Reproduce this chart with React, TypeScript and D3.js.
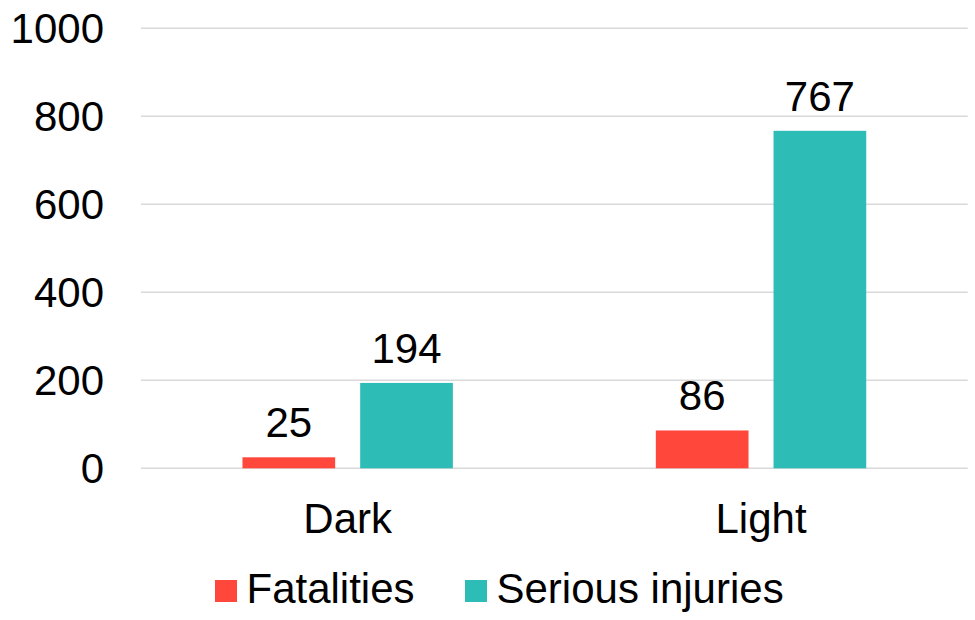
import React from "react";
import * as d3 from "d3";

const categories = ["Dark", "Light"];
const seriesNames = ["Fatalities", "Serious injuries"];
const fatalities = [25, 86];
const seriousInjuries = [194, 767];
const yTicks = [0, 200, 400, 600, 800, 1000];
const colors = ["#ff473b", "#2ebdb6"];

const W = 975;
const H = 620;
const FONT = "Liberation Sans, Arial, sans-serif";
const FS = 42;

export default function App() {
  const x0 = d3.scaleBand<string>().domain(categories).range([141, 967.7]).paddingInner(0).paddingOuter(0);
  const groupWidth = 210.4;
  const x1 = d3
    .scaleBand<string>()
    .domain(seriesNames)
    .range([(x0.bandwidth() - groupWidth) / 2, (x0.bandwidth() + groupWidth) / 2])
    .paddingInner(0.2124);
  const y = d3.scaleLinear().domain([0, 1000]).range([468.3, 28.3]);

  const series = [fatalities, seriousInjuries];

  return (
    <svg
      width={W}
      height={H}
      style={{ position: "absolute", left: 0, top: 0, background: "#fff" }}
      fontFamily={FONT}
    >
      {yTicks.map((t) => (
        <g key={t}>
          <line x1={141} x2={967.7} y1={y(t)} y2={y(t)} stroke="#d9d9d9" strokeWidth={1.5} />
          <text x={104} y={y(t)} dy="0.36em" textAnchor="end" fontSize={FS} fill="#000">
            {t}
          </text>
        </g>
      ))}
      {categories.map((c, ci) => (
        <g key={c} transform={`translate(${x0(c)},0)`}>
          {seriesNames.map((s, si) => {
            const v = series[si][ci];
            const bx = x1(s)!;
            return (
              <g key={s}>
                <rect x={bx} y={y(v)} width={x1.bandwidth()} height={y(0) - y(v)} fill={colors[si]} />
                <text
                  x={bx + x1.bandwidth() / 2}
                  y={y(v) - 20}
                  textAnchor="middle"
                  fontSize={FS}
                  fill="#000"
                >
                  {v}
                </text>
              </g>
            );
          })}
          <text x={x0.bandwidth() / 2} y={533.3} textAnchor="middle" fontSize={FS} fill="#000">
            {c}
          </text>
        </g>
      ))}
      {seriesNames.map((s, si) => {
        const lx = [215, 465][si];
        return (
          <g key={s}>
            <rect x={lx} y={580} width={22} height={22} fill={colors[si]} />
            <text x={lx + 31.5} y={603.3} fontSize={FS} fill="#000">
              {s}
            </text>
          </g>
        );
      })}
    </svg>
  );
}
